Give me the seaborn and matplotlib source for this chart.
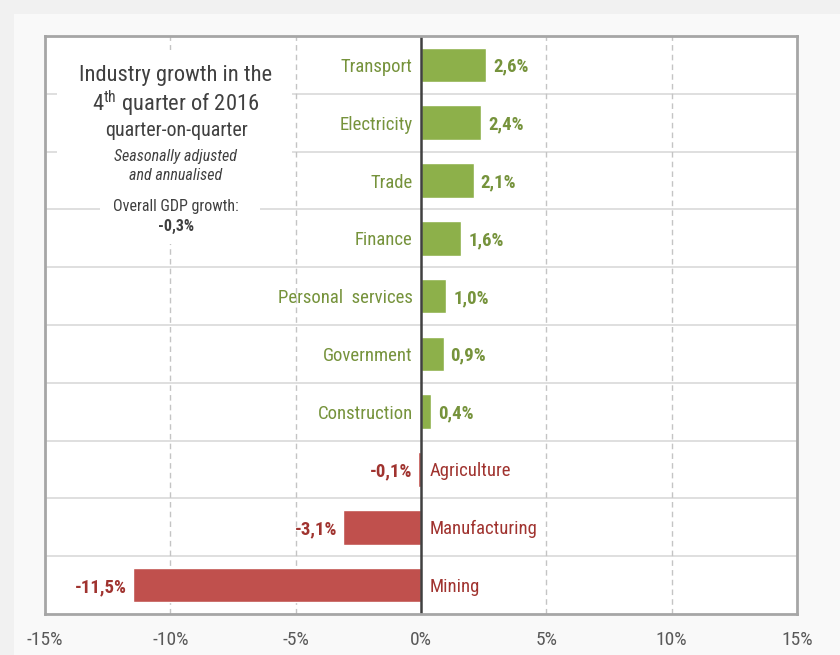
import matplotlib
matplotlib.use("Agg")
import matplotlib.pyplot as plt
from matplotlib.patches import Rectangle
import seaborn as sns
import pandas as pd
import numpy as np

# Industry growth, Q4 2016, quarter-on-quarter (seasonally adjusted, annualised), %
industries = ["Transport", "Electricity", "Trade", "Finance", "Personal  services",
              "Government", "Construction", "Agriculture", "Manufacturing", "Mining"]
growth = [2.6, 2.4, 2.1, 1.6, 1.0, 0.9, 0.4, -0.1, -3.1, -11.5]
value_labels = ["2,6%", "2,4%", "2,1%", "1,6%", "1,0%", "0,9%", "0,4%", "-0,1%", "-3,1%", "-11,5%"]
x_ticks = [-15, -10, -5, 0, 5, 10, 15]
x_tick_labels = ["-15%", "-10%", "-5%", "0%", "5%", "10%", "15%"]
gdp_growth_label = "-0,3%"

GREEN_BAR = "#8db04a"
GREEN_TXT = "#76933c"
RED_BAR = "#c0504d"
RED_TXT = "#a0332f"

sns.set_theme(style="white")
plt.rcParams["font.family"] = ["Roboto Condensed", "Liberation Sans", "DejaVu Sans"]
plt.rcParams["mathtext.fontset"] = "custom"
plt.rcParams["mathtext.rm"] = "Roboto Condensed"

df = pd.DataFrame({"industry": industries, "growth": growth})
df["direction"] = np.where(df["growth"] >= 0, "up", "down")

W, H = 840, 655
fig = plt.figure(figsize=(W / 100, H / 100), dpi=100, facecolor="#f1f1f1")
fig.patches.append(Rectangle((14 / W, 0), 1, 1 - 14 / H, transform=fig.transFigure,
                             facecolor="#f9f9f9", edgecolor="none", zorder=-1))

ax = fig.add_axes([45 / W, 41 / H, 752 / W, 578 / H])
ax.set_facecolor("white")

sns.barplot(data=df, y="industry", x="growth", hue="direction", order=industries,
            palette={"up": GREEN_BAR, "down": RED_BAR}, dodge=False, width=0.6,
            saturation=1, legend=False, ax=ax, zorder=3)

ax.set_xlim(-15, 15)
ax.set_ylim(len(industries) - 0.5, -0.5)

# row separators and dashed vertical guides
for i in range(len(industries) - 1):
    ax.axhline(i + 0.5, color="#d9d9d9", lw=1.2, zorder=1)
for xv in [-10, -5, 5, 10]:
    ax.axvline(xv, color="#c4c4c4", lw=1, ls=(0, (4, 3)), zorder=1)
ax.axvline(0, color="#404040", lw=1.8, zorder=4)

for sp in ax.spines.values():
    sp.set_visible(True)
    sp.set_color("#a6a6a6")
    sp.set_linewidth(2)
    sp.set_zorder(6)

ax.set_xticks(x_ticks)
ax.set_xticklabels(x_tick_labels)
ax.tick_params(axis="x", length=0, pad=12, labelsize=14, labelcolor="#595959")
ax.set_yticks([])
ax.set_xlabel("")
ax.set_ylabel("")

# category names beside the zero line and value labels at the bar ends
FS = 13.5
for i, (name, v, lab) in enumerate(zip(industries, growth, value_labels)):
    if v >= 0:
        ax.text(-0.33, i, name, ha="right", va="center_baseline", fontsize=FS,
                color=GREEN_TXT, zorder=5)
        ax.text(v + 0.28, i, lab, ha="left", va="center_baseline", fontsize=FS,
                fontweight="bold", color=GREEN_TXT, zorder=5)
    else:
        ax.text(0.36, i, name, ha="left", va="center_baseline", fontsize=FS,
                color=RED_TXT, zorder=5)
        ax.text(v - 0.25, i, lab, ha="right", va="center_baseline", fontsize=FS,
                fontweight="bold", color=RED_TXT, zorder=5)

# white panels behind the title block
fig.patches.append(Rectangle((57 / W, 1 - 192 / H), 235 / W, 142 / H, transform=fig.transFigure,
                             facecolor="white", edgecolor="none", zorder=1))
fig.patches.append(Rectangle((100 / W, 1 - 244 / H), 160 / W, 52 / H, transform=fig.transFigure,
                             facecolor="white", edgecolor="none", zorder=1))

cx = 176 / W
TITLE = "#404040"
fig.text(cx, 1 - 75 / H, "Industry growth in the", ha="center", va="center",
         fontsize=16.2, color=TITLE, zorder=5)
fig.text(cx, 1 - 104 / H, r"4$^{\mathrm{th}}$ quarter of 2016", ha="center", va="center",
         fontsize=16.2, color=TITLE, zorder=5)
fig.text(cx, 1 - 131 / H, "quarter-on-quarter", ha="center", va="center",
         fontsize=14.4, color=TITLE, zorder=5)
fig.text(cx, 1 - 156 / H, "Seasonally adjusted", ha="center", va="center",
         fontsize=11.5, style="italic", color=TITLE, zorder=5)
fig.text(cx, 1 - 176 / H, "and annualised", ha="center", va="center",
         fontsize=11.5, style="italic", color=TITLE, zorder=5)
fig.text(cx, 1 - 206 / H, "Overall GDP growth:", ha="center", va="center",
         fontsize=11.5, color=TITLE, zorder=5)
fig.text(cx, 1 - 226 / H, gdp_growth_label, ha="center", va="center",
         fontsize=11.5, fontweight="bold", color=TITLE, zorder=5)

fig.savefig("out.png", dpi=100, facecolor=fig.get_facecolor())
